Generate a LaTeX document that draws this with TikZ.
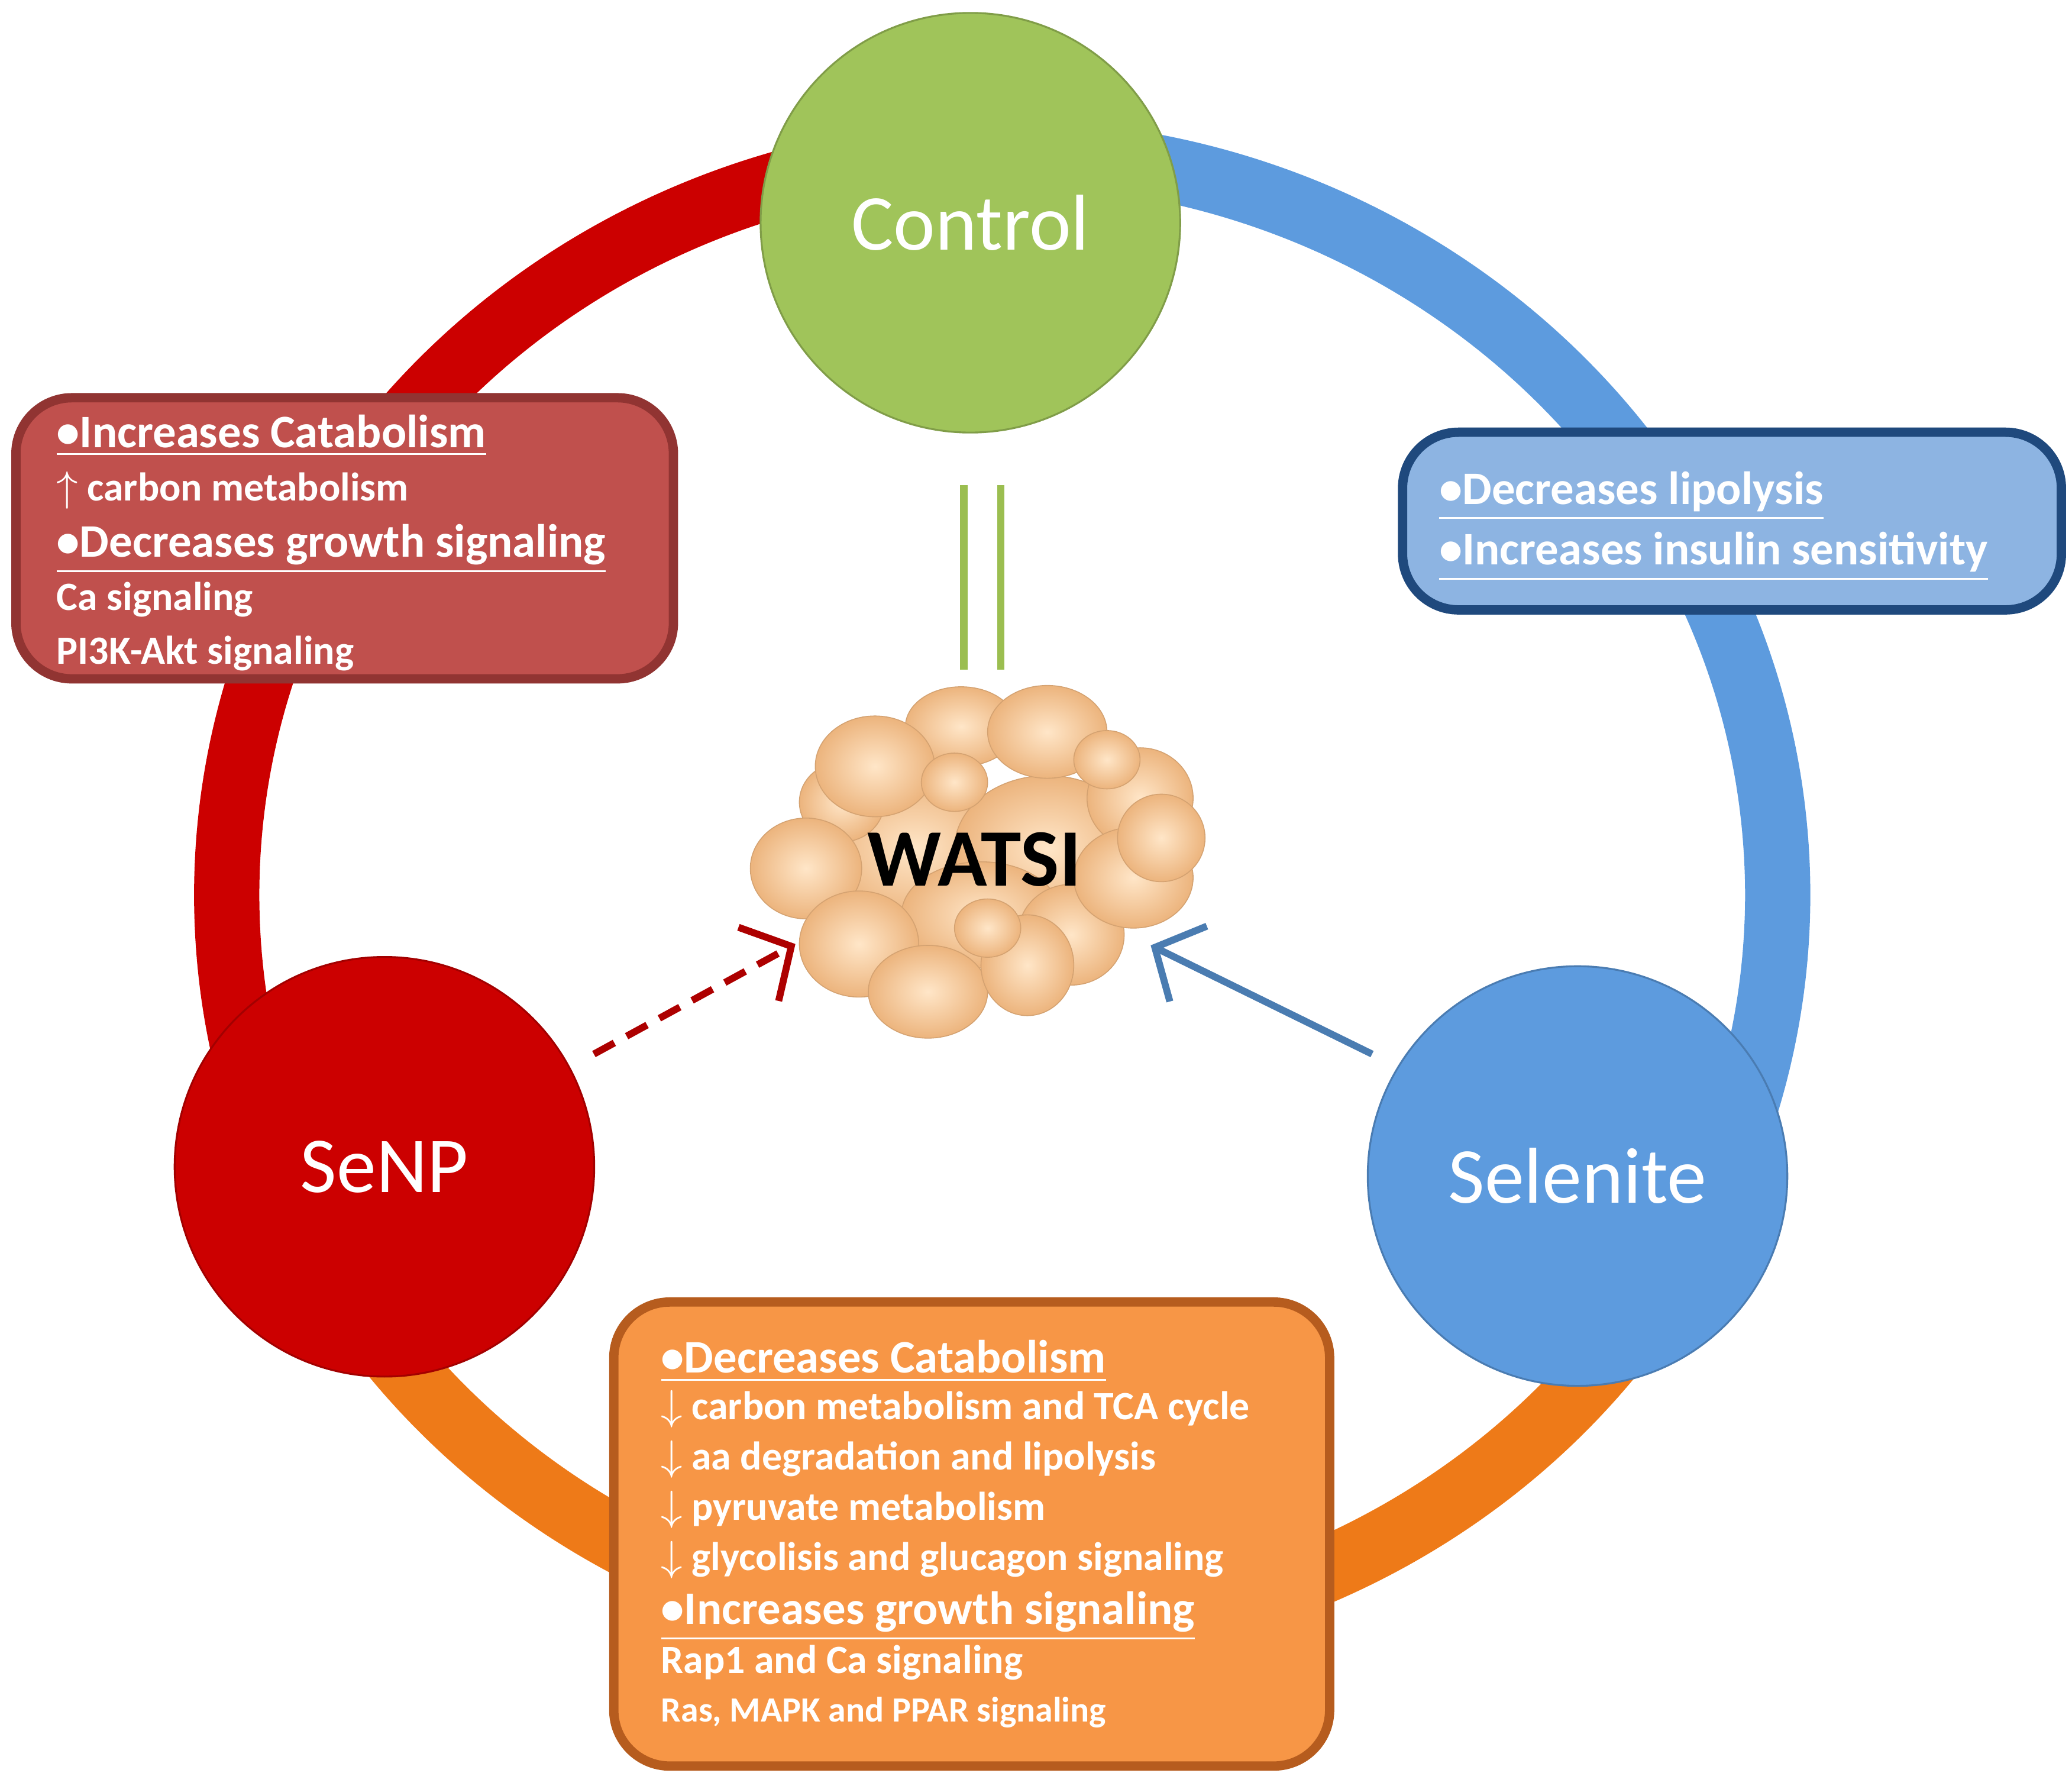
\documentclass[tikz,border=0pt]{standalone}
\usepackage{fontspec}
\setmainfont{Carlito}
\usetikzlibrary{arrows.meta,shadings}
\definecolor{cgreen}{RGB}{160,196,90}
\definecolor{cred}{RGB}{204,0,0}
\definecolor{cblue}{RGB}{93,155,222}
\definecolor{corange}{RGB}{238,122,24}
\definecolor{rbox}{RGB}{192,80,77}
\definecolor{rboxb}{RGB}{145,52,50}
\definecolor{bbox}{RGB}{141,180,226}
\definecolor{bboxb}{RGB}{31,73,125}
\definecolor{obox}{RGB}{247,150,70}
\definecolor{oboxb}{RGB}{182,92,30}
\definecolor{blobin}{RGB}{255,230,200}
\definecolor{blobout}{RGB}{236,180,125}
\definecolor{dline}{RGB}{155,190,80}
\tikzset{
 ring/.style={line width=14pt},
 big/.style={circle,minimum size=90pt,inner sep=0pt,text=white,font=\fontsize{17}{20}\selectfont},
 box/.style={rounded corners=12pt,line width=2pt},
 txt/.style={anchor=north west,align=left,text=white,inner sep=0pt},
 bl/.style={inner color=blobin,outer color=blobout,draw=blobout!90!black,line width=0.2pt},
}
\newcommand{\T}[1]{\fontsize{10}{11}\selectfont\bfseries\underline{•#1}}
\newcommand{\Ss}[1]{\fontsize{8.6}{10.5}\selectfont\bfseries #1}
\begin{document}
\begin{tikzpicture}[x=0.01cm,y=-0.01cm]
\useasboundingbox (0,0) rectangle (1563,1337);
% ring
\draw[ring,cred] (756,675) ++(-206:585 and 560) arc[start angle=-206,end angle=-93,x radius=585,y radius=560];
\draw[ring,corange] (756,675) ++(29:585 and 560) arc[start angle=29,end angle=154,x radius=585,y radius=560];
\draw[ring,cblue] (756,675) ++(-93:585 and 560) arc[start angle=-93,end angle=29,x radius=585,y radius=560];
% boxes
\draw[box,fill=rbox,draw=rboxb] (12,300) rectangle (508,512);
\draw[box,fill=bbox,draw=bboxb] (1058,326) rectangle (1555,460);
\draw[box,fill=obox,draw=oboxb] (463,982) rectangle (1003,1332);
\node[txt] (rt) at (42,312) {\T{Increases Catabolism}\\[-0.5pt]\Ss{$\uparrow$ carbon metabolism}\\[0pt]\T{Decreases growth signaling}\\[-0.5pt]\Ss{Ca signaling}\\[-0.5pt]\Ss{PI3K-Akt signaling}};
\node[txt] (bt) at (1085,355) {\T{Decreases lipolysis}\\[1pt]\T{Increases insulin sensitivity}};
\node[txt] (ot) at (498,1010) {\T{Decreases Catabolism}\\[-2pt]\Ss{$\downarrow$ carbon metabolism and TCA cycle}\\[-1.2pt]\Ss{$\downarrow$ aa degradation and lipolysis}\\[-1.2pt]\Ss{$\downarrow$ pyruvate metabolism}\\[-1.2pt]\Ss{$\downarrow$ glycolisis and glucagon signaling}\\[-0.5pt]\T{Increases growth signaling}\\[-1.5pt]\Ss{Rap1 and Ca signaling}\\[-1.5pt]{\fontsize{7.6}{9}\selectfont\bfseries Ras, MAPK and PPAR signaling}};
% circles
\node[big,fill=cgreen,draw=cgreen!80!black] (ctl) at (732,168) {Control};
\node[big,fill=cred,draw=cred!80!black] (senp) at (290,880) {SeNP};
\node[big,fill=cblue,draw=cblue!80!black] (sel) at (1190,887) {Selenite};
% double green line
\coordinate (g1) at (727,366); \coordinate (g2) at (727,505);
\coordinate (g3) at (755,366); \coordinate (g4) at (755,505);
\draw[dline,line width=1.6pt] (g1)--(g2) (g3)--(g4);
% blobs
\foreach \x/\y/\a/\b in {690/640/70/55,790/640/70/55,740/690/60/40,
 725/548/42/30,790/552/45/35,860/602/40/38,808/705/40/38,
 635/605/32/30,660/578/45/38,608/655/42/38,648/712/45/40,700/748/45/35,775/728/35/38,
 855/662/45/38,876/632/33/33,835/573/25/22,
 720/590/25/22,745/700/25/22}
 \shade[bl] (\x,\y) ellipse[x radius=\a,y radius=\b];
\node[font=\fontsize{17.5}{20}\selectfont\bfseries] (w) at (735,648) {WATSI};
% arrows
\coordinate (a1) at (448,795); \coordinate (a2) at (600,712);
\coordinate (b1) at (1035,795); \coordinate (b2) at (868,713);
\draw[cred!85!black,line width=1.5pt,dash pattern=on 5pt off 3pt,-{Straight Barb[length=8pt,width=18pt,line width=1.5pt]}] (a1)--(a2);
\draw[cblue!80!black,line width=1.5pt,-{Straight Barb[length=8pt,width=18pt,line width=1.5pt]}] (b1)--(b2);
\end{tikzpicture}
\end{document}
